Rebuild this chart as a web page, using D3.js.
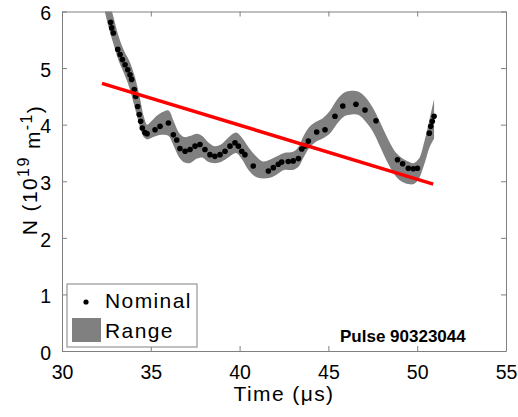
<!DOCTYPE html>
<html lang="en">
<head>
<meta charset="UTF-8">
<title>Pulse 90323044</title>
<script src="https://d3js.org/d3.v7.min.js"></script>
<style>
  body { margin: 0; background: #fff; }
  text { font-family: "Liberation Sans", Arial, sans-serif; fill: #000; }
  .axis path, .axis line { stroke: #808080; }
</style>
</head>
<body>
<svg id="chart" width="518" height="417"></svg>
<script>
// nominal measurements (time in µs, N in 1e19 m^-1)
const nomTime = [32.74, 32.80, 32.89, 33.14, 33.27, 33.40, 33.55, 33.70, 33.83, 33.92,
  34.07, 34.15, 34.26, 34.35, 34.43, 34.52, 34.67, 34.79, 35.24, 35.52, 35.99, 36.27,
  36.46, 36.64, 36.93, 37.21, 37.49, 37.77, 38.05, 38.33, 38.61, 38.90, 39.18, 39.46,
  39.74, 39.93, 40.12, 40.30, 40.77, 41.62, 41.90, 42.18, 42.37, 42.74, 43.02, 43.31,
  43.50, 43.68, 43.87, 44.34, 44.81, 45.37, 45.81, 46.55, 47.06, 47.68, 48.89, 49.18,
  49.50, 49.78, 50.01, 50.68, 50.76, 50.85, 50.95];
const nomValue = [5.81, 5.71, 5.62, 5.33, 5.24, 5.15, 5.06, 4.97, 4.88, 4.80,
  4.62, 4.50, 4.32, 4.18, 4.06, 3.94, 3.86, 3.84, 3.91, 3.97, 4.03, 3.82,
  3.73, 3.58, 3.53, 3.56, 3.62, 3.65, 3.56, 3.47, 3.44, 3.47, 3.53, 3.62,
  3.68, 3.62, 3.53, 3.47, 3.27, 3.18, 3.24, 3.30, 3.34, 3.35, 3.36, 3.40,
  3.57, 3.62, 3.71, 3.87, 3.91, 4.15, 4.33, 4.36, 4.26, 4.07, 3.38, 3.31,
  3.23, 3.22, 3.23, 3.85, 3.97, 4.06, 4.15];

// uncertainty range
const rangeTime = [32.3, 32.6, 32.9, 33.2, 33.5, 33.8, 34.1, 34.4, 34.6, 34.8, 35.0,
  35.3, 35.7, 36.0, 36.3, 36.6, 36.9, 37.2, 37.6, 37.9, 38.2, 38.6, 39.0, 39.4, 39.8,
  40.1, 40.5, 40.9, 41.3, 41.7, 42.1, 42.5, 43.0, 43.3, 43.6, 43.9, 44.3, 44.7, 45.1,
  45.5, 45.9, 46.3, 46.7, 47.1, 47.5, 47.9, 48.3, 48.7, 49.1, 49.5, 49.8, 50.1, 50.4,
  50.7, 50.95];
const rangeLow = [6.15, 5.75, 5.42, 5.12, 4.90, 4.65, 4.30, 3.95, 3.78, 3.74, 3.76,
  3.80, 3.82, 3.80, 3.62, 3.42, 3.33, 3.32, 3.40, 3.42, 3.35, 3.32, 3.35, 3.43, 3.50,
  3.40, 3.20, 3.08, 3.05, 3.06, 3.12, 3.20, 3.20, 3.25, 3.42, 3.58, 3.70, 3.76, 3.85,
  4.02, 4.15, 4.18, 4.17, 4.05, 3.88, 3.62, 3.35, 3.13, 3.00, 2.95, 2.95, 3.05, 3.30,
  3.60, 3.75];
const rangeHigh = [6.70, 6.25, 5.90, 5.55, 5.30, 5.12, 4.85, 4.45, 4.15, 4.00, 4.05,
  4.15, 4.23, 4.25, 4.05, 3.85, 3.78, 3.80, 3.84, 3.80, 3.70, 3.62, 3.66, 3.78, 3.86,
  3.78, 3.60, 3.45, 3.35, 3.38, 3.44, 3.50, 3.52, 3.60, 3.80, 3.95, 4.05, 4.12, 4.25,
  4.45, 4.57, 4.60, 4.58, 4.48, 4.30, 4.05, 3.78, 3.55, 3.42, 3.35, 3.32, 3.40, 3.70,
  4.10, 4.45];

// linear fit
const fitTime = [32.25, 50.9];
const fitValue = [4.73, 2.95];

const xTicks = [30, 35, 40, 45, 50, 55];
const yTicks = [0, 1, 2, 3, 4, 5, 6];

const svg = d3.select("#chart");
const x = d3.scaleLinear().domain([30, 55]).range([62, 506]);
const y = d3.scaleLinear().domain([0, 6]).range([351, 11.5]);

svg.append("clipPath").attr("id", "clip")
  .append("rect")
  .attr("x", x(30)).attr("y", y(6))
  .attr("width", x(55) - x(30)).attr("height", y(0) - y(6));

const plot = svg.append("g").attr("clip-path", "url(#clip)");

const band = rangeTime.map((t, i) => ({t: t, lo: rangeLow[i], hi: rangeHigh[i]}));
plot.append("path")
  .datum(band)
  .attr("fill", "#808080")
  .attr("d", d3.area()
    .x(d => x(d.t))
    .y0(d => y(d.lo))
    .y1(d => y(d.hi))
    .curve(d3.curveCatmullRom));

plot.selectAll(".dot")
  .data(nomTime.map((t, i) => ({t: t, v: nomValue[i]})))
  .enter().append("circle")
  .attr("class", "dot")
  .attr("cx", d => x(d.t))
  .attr("cy", d => y(d.v))
  .attr("r", 2.8)
  .attr("fill", "#000");

plot.append("path")
  .datum(fitTime.map((t, i) => ({t: t, v: fitValue[i]})))
  .attr("fill", "none")
  .attr("stroke", "#ff0000")
  .attr("stroke-width", 3.5)
  .attr("d", d3.line().x(d => x(d.t)).y(d => y(d.v)));

// axes (box with inward ticks)
const fmt = d3.format("d");
svg.append("g").attr("class", "axis")
  .attr("transform", `translate(0,${y(0)})`)
  .call(d3.axisBottom(x).tickValues(xTicks).tickFormat(fmt).tickSizeInner(-5).tickSizeOuter(0).tickPadding(14));
svg.append("g").attr("class", "axis")
  .attr("transform", `translate(0,${y(6)})`)
  .call(d3.axisTop(x).tickValues(xTicks).tickFormat("").tickSizeInner(-5).tickSizeOuter(0));
const gy = svg.append("g").attr("class", "axis")
  .attr("transform", `translate(${x(30)},0)`)
  .call(d3.axisLeft(y).tickValues(yTicks).tickFormat(fmt).tickSizeInner(-5).tickSizeOuter(0).tickPadding(11));
svg.append("g").attr("class", "axis")
  .attr("transform", `translate(${x(55)},0)`)
  .call(d3.axisRight(y).tickValues(yTicks).tickFormat("").tickSizeInner(-5).tickSizeOuter(0));

svg.selectAll(".axis text")
  .style("font-size", "19.5px")
  .style("font-family", "'Liberation Sans', Arial, sans-serif")
  .attr("fill", "#000");
gy.selectAll("text").attr("dy", "0.42em");

// axis labels
svg.append("text")
  .attr("x", (x(30) + x(55)) / 2)
  .attr("y", 401)
  .attr("text-anchor", "middle")
  .style("font-size", "21px")
  .style("letter-spacing", "1.4px")
  .text("Time (\u03bcs)");

const yl = svg.append("text")
  .attr("transform", "translate(37,170) rotate(-90)")
  .attr("text-anchor", "middle")
  .style("font-size", "21px")
  .style("letter-spacing", "1.4px");
yl.append("tspan").text("N (10");
yl.append("tspan").attr("dy", "-0.5em").style("font-size", "16px").text("19");
yl.append("tspan").attr("dy", "0.5em").text(" m");
yl.append("tspan").attr("dy", "-0.5em").style("font-size", "16px").text("-1");
yl.append("tspan").attr("dy", "0.5em").text(")");

// pulse annotation
svg.append("text")
  .attr("x", 340)
  .attr("y", 342)
  .style("font-size", "17px")
  .style("font-weight", "bold")
  .text("Pulse 90323044");

// legend
const lg = svg.append("g");
lg.append("rect")
  .attr("x", 67).attr("y", 284)
  .attr("width", 130).attr("height", 63)
  .attr("fill", "#fff")
  .attr("stroke", "#808080");
lg.append("circle").attr("cx", 86).attr("cy", 302).attr("r", 2.6).attr("fill", "#000");
lg.append("text").attr("x", 105).attr("y", 308).style("font-size", "21px").style("letter-spacing", "1.4px").text("Nominal");
lg.append("rect").attr("x", 72).attr("y", 318).attr("width", 29).attr("height", 24).attr("fill", "#808080");
lg.append("text").attr("x", 105).attr("y", 338).style("font-size", "21px").style("letter-spacing", "1.4px").text("Range");
</script>
</body>
</html>
